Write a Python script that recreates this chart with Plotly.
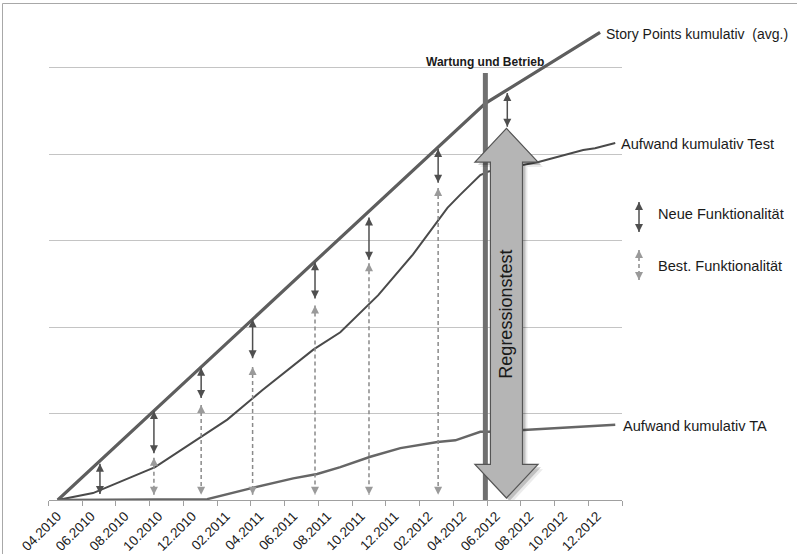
import plotly.graph_objects as go

W, H = 797, 554
FONT = "Liberation Sans, Arial, sans-serif"

# ---------------- data (x = months from left axis edge, 2 months per category) -------------
tick_labels = ["04.2010", "06.2010", "08.2010", "10.2010", "12.2010", "02.2011", "04.2011",
               "06.2011", "08.2011", "10.2011", "12.2011", "02.2012", "04.2012", "06.2012",
               "08.2012", "10.2012", "12.2012"]
tick_pos = [1 + 2 * i for i in range(len(tick_labels))]
tick_edges = [2 * i for i in range(len(tick_labels) + 1)]

story_x = [0.55, 25.9, 32.7]
story_y = [0, 459, 541]

test_x = [0.55, 2.64, 6.32, 9.0, 10.6, 12.67, 15.7, 17.3, 19.55, 21.6, 23.65, 24.4, 25.6,
          26.08, 29.05, 31.7, 32.4, 33.6]
test_y = [0, 8, 38, 73, 93, 127, 174, 194, 237, 284, 338, 353, 376, 380, 391, 405, 407, 413]

ta_x = [0.55, 9.41, 12.1, 14.51, 15.93, 17.3, 19.08, 20.86, 23.06, 24.12, 25.6, 26.08,
        28.16, 33.6]
ta_y = [0, 1, 14, 25, 30, 38, 50, 60, 67, 69, 79, 79, 81, 87]

neu_x = [3.05, 6.25, 9.05, 12.1, 15.8, 19.0, 23.1, 27.2]
neu_top = [42, 103, 153, 209, 275, 327, 406, 471]
neu_bot = [7, 54, 118, 164, 233, 278, 367, 432]

best_x = [6.25, 9.05, 12.1, 15.8, 19.0, 23.1]
best_top = [49, 110, 154, 225, 274, 361]
best_bot = [6, 6, 6, 6, 6, 6]

wartung_x = 25.9
wartung_top = 494

regr_x = 27.15
regr_top = 430
regr_bot = 2.3
regr_head = 39      # head length in value units
regr_head_half = 1.87
regr_shaft_half = 0.95

# ---------------- layout geometry ----------------
PL, PR, PT, PB = 48.5, 622.0, 16.0, 500.0
XR = [0, 34]
YR = [0, 560]

fig = go.Figure()


def arrow_xy(xs, tops, bots):
    x, y, sym = [], [], []
    for xi, t, b in zip(xs, tops, bots):
        x += [xi, xi, None]
        y += [t, b, None]
        sym += ["arrow-up", "arrow-down", "circle"]
    return x, y, sym


# data lines
fig.add_trace(go.Scatter(x=story_x, y=story_y, mode="lines",
                         line=dict(color="#5e5e5e", width=3.2), hoverinfo="skip"))
fig.add_trace(go.Scatter(x=test_x, y=test_y, mode="lines",
                         line=dict(color="#4a4a4a", width=2), hoverinfo="skip"))
fig.add_trace(go.Scatter(x=ta_x, y=ta_y, mode="lines",
                         line=dict(color="#666666", width=2.5), hoverinfo="skip"))

# best. Funktionalität (dashed)
bx, by, bs = arrow_xy(best_x, best_top, best_bot)
fig.add_trace(go.Scatter(x=bx, y=by, mode="lines+markers",
                         line=dict(color="#8a8a8a", width=1.5, dash="4px,3px"),
                         marker=dict(symbol=bs, size=8, color="#9a9a9a"),
                         hoverinfo="skip"))
# neue Funktionalität (solid)
nx, ny, ns = arrow_xy(neu_x, neu_top, neu_bot)
fig.add_trace(go.Scatter(x=nx, y=ny, mode="lines+markers",
                         line=dict(color="#4f4f4f", width=1.5),
                         marker=dict(symbol=ns, size=8, color="#4f4f4f"),
                         hoverinfo="skip"))

# legend arrows in a pixel-based side subplot
fig.add_trace(go.Scatter(x=[639, 639], y=[202, 232], mode="lines+markers", xaxis="x2", yaxis="y2",
                         line=dict(color="#4f4f4f", width=1.5),
                         marker=dict(symbol=["arrow-up", "arrow-down"], size=8, color="#4f4f4f"),
                         hoverinfo="skip"))
fig.add_trace(go.Scatter(x=[639, 639], y=[250, 280], mode="lines+markers", xaxis="x2", yaxis="y2",
                         line=dict(color="#8a8a8a", width=1.5, dash="4px,3px"),
                         marker=dict(symbol=["arrow-up", "arrow-down"], size=8, color="#9a9a9a"),
                         hoverinfo="skip"))

# regression double arrow path
def regr_path(dx=0.0, dy=0.0):
    c = regr_x + dx
    pts = [
        (c, regr_top),
        (c + regr_head_half, regr_top - regr_head),
        (c + regr_shaft_half, regr_top - regr_head),
        (c + regr_shaft_half, regr_bot + regr_head),
        (c + regr_head_half, regr_bot + regr_head),
        (c, regr_bot),
        (c - regr_head_half, regr_bot + regr_head),
        (c - regr_shaft_half, regr_bot + regr_head),
        (c - regr_shaft_half, regr_top - regr_head),
        (c - regr_head_half, regr_top - regr_head),
    ]
    pts = [(px, py + dy) for px, py in pts]
    return "M " + " L ".join(f"{a:.3f},{b:.3f}" for a, b in pts) + " Z"


xu = (PR - PL) / (XR[1] - XR[0])   # px per month
yu = (PB - PT) / (YR[1] - YR[0])   # px per value unit

shapes = [
    # wartung bar
    dict(type="line", xref="x", yref="y", x0=wartung_x, x1=wartung_x, y0=-3.5, y1=wartung_top,
         line=dict(color="#707070", width=5), layer="above"),
    # shadow of regression arrow (two soft layers)
    dict(type="path", xref="x", yref="y", path=regr_path(5 / xu, -5 / yu),
         fillcolor="rgba(0,0,0,0.08)", line=dict(width=0), layer="above"),
    dict(type="path", xref="x", yref="y", path=regr_path(3 / xu, -3 / yu),
         fillcolor="rgba(0,0,0,0.18)", line=dict(width=0), layer="above"),
    dict(type="path", xref="x", yref="y", path=regr_path(),
         fillcolor="#b5b5b5", line=dict(color="#555555", width=1.2), layer="above"),
    # frame
    dict(type="line", xref="paper", yref="paper", x0=2.5 / W, x1=1.2, y0=1 - 3.5 / H, y1=1 - 3.5 / H,
         line=dict(color="#a8a8a8", width=1)),
    dict(type="line", xref="paper", yref="paper", x0=2.5 / W, x1=2.5 / W, y0=-0.2, y1=1 - 3.5 / H,
         line=dict(color="#a8a8a8", width=1)),
]

txt = dict(family=FONT, color="#1a1a1a")
annotations = [
    dict(x=story_x[-1], y=story_y[-1], xref="x", yref="y", text="Story Points kumulativ\u00a0 (avg.)",
         showarrow=False, xanchor="left", yanchor="middle", xshift=4, yshift=-2, font=dict(size=14, **txt)),
    dict(x=test_x[-1], y=test_y[-1], xref="x", yref="y", text="Aufwand kumulativ Test",
         showarrow=False, xanchor="left", yanchor="middle", xshift=4, yshift=-1, font=dict(size=14.6, **txt)),
    dict(x=ta_x[-1], y=ta_y[-1], xref="x", yref="y", text="Aufwand kumulativ TA",
         showarrow=False, xanchor="left", yanchor="middle", xshift=6, yshift=-1, font=dict(size=14.6, **txt)),
    dict(x=wartung_x, y=507, xref="x", yref="y", text="<b>Wartung und Betrieb</b>",
         showarrow=False, xanchor="center", yanchor="middle", font=dict(size=12, **txt)),
    dict(x=regr_x, y=215, xref="x", yref="y", text="Regressionstest", textangle=-90,
         showarrow=False, xanchor="center", yanchor="middle", font=dict(size=18, **txt)),
    dict(x=656 / W, y=1 - 214 / H, xref="paper", yref="paper", text="Neue Funktionalität",
         showarrow=False, xanchor="left", yanchor="middle", font=dict(size=14.6, **txt)),
    dict(x=656 / W, y=1 - 266 / H, xref="paper", yref="paper", text="Best. Funktionalität",
         showarrow=False, xanchor="left", yanchor="middle", font=dict(size=14.6, **txt)),
]

fig.update_layout(
    width=W, height=H,
    margin=dict(l=0, r=0, t=0, b=0),
    paper_bgcolor="white", plot_bgcolor="rgba(0,0,0,0)",
    showlegend=False,
    template="none",
    xaxis=dict(domain=[PL / W, PR / W], range=XR, showgrid=False, zeroline=False,
               showline=True, linecolor="#a0a0a0", linewidth=1,
               tickmode="array", tickvals=tick_pos, ticktext=tick_labels, tickangle=-45,
               ticks="", tickfont=dict(family=FONT, size=13.5, color="#1a1a1a"),
               ticklabelshift=-8, ticklabelstandoff=2,
               minor=dict(tickmode="array", tickvals=tick_edges, ticks="outside", ticklen=5,
                          tickcolor="#a0a0a0", tickwidth=1, showgrid=False),
               automargin=False, fixedrange=True),
    yaxis=dict(domain=[1 - PB / H, 1 - PT / H], range=YR, showgrid=True, gridcolor="#c4c4c4",
               gridwidth=1, tickmode="linear", tick0=0, dtick=100, showticklabels=False,
               zeroline=False, showline=False, ticks="", automargin=False, fixedrange=True),
    xaxis2=dict(domain=[620 / W, 660 / W], range=[620, 660], visible=False, anchor="y2",
                fixedrange=True),
    yaxis2=dict(domain=[0, 1], range=[H, 0], visible=False, anchor="x2", fixedrange=True),
    shapes=shapes,
    annotations=annotations,
)

fig.write_html("out.html")
